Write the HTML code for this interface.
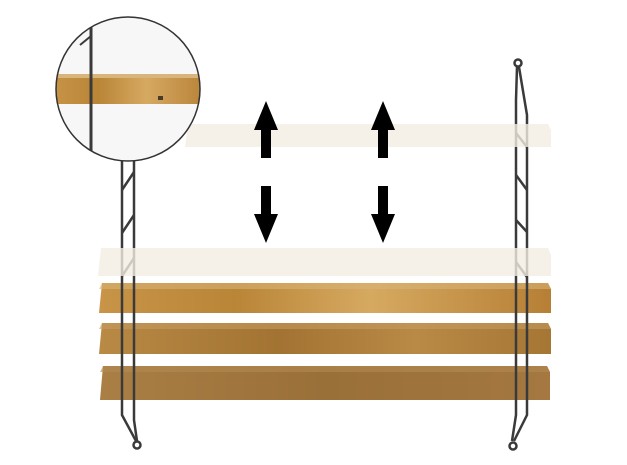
<!DOCTYPE html>
<html><head><style>body{margin:0;background:#fff}svg{display:block}</style></head>
<body>
<svg width="627" height="465" viewBox="0 0 627 465" xmlns="http://www.w3.org/2000/svg">
<defs>
<linearGradient id="w1" x1="0" y1="0" x2="1" y2="0">
<stop offset="0" stop-color="#c89448"/><stop offset=".3" stop-color="#b98537"/><stop offset=".6" stop-color="#d6a961"/><stop offset="1" stop-color="#b67f35"/></linearGradient>
<linearGradient id="w2" x1="0" y1="0" x2="1" y2="0">
<stop offset="0" stop-color="#b88a45"/><stop offset=".4" stop-color="#a27332"/><stop offset=".7" stop-color="#b98a46"/><stop offset="1" stop-color="#a57634"/></linearGradient>
<linearGradient id="w3" x1="0" y1="0" x2="1" y2="0">
<stop offset="0" stop-color="#aa7f45"/><stop offset=".5" stop-color="#9a7039"/><stop offset="1" stop-color="#a47840"/></linearGradient>
<clipPath id="cc"><circle cx="128" cy="89" r="72"/></clipPath>
</defs>
<!-- shelves -->
<polygon points="102,283 548,283 551,289 551,313 99,313" fill="url(#w1)"/>
<polygon points="102,283 548,283 551,289 99,289" fill="#d9b374" opacity=".6"/>
<polygon points="102,323 548,323 551,329 551,354 99,354" fill="url(#w2)"/>
<polygon points="102,323 548,323 551,329 99,329" fill="#c49b60" opacity=".6"/>
<polygon points="103,366 547,366 550,372 550,400 100,400" fill="url(#w3)"/>
<polygon points="103,366 547,366 550,372 100,372" fill="#b38a52" opacity=".6"/>
<g stroke="#3a3a3a" stroke-width="2.5" fill="none">
<!-- left rail -->
<path d="M122,160 L122,415 L136,441"/>
<path d="M134,160 L134,420 L137,441"/>
<path d="M134,172 L122,190 M134,215 L122,233 M134,258 L122,276"/>
<circle cx="137" cy="445" r="3.5"/>
<!-- right rail -->
<circle cx="518" cy="63" r="3.5"/>
<path d="M517,67 L516,100 L516,415 L512,441"/>
<path d="M519,67 L527,115 L527,415 L514,441"/>
<path d="M516,133 L527,147 M516,175 L527,190 M516,220 L527,232 M516,262 L527,277"/>
<circle cx="513" cy="446" r="3.5"/>
</g>
<!-- ghost shelves -->
<polygon points="188,124 548,124 551,130 551,147 185,147" fill="#f4eee2" opacity=".8"/>
<polygon points="101,248 548,248 551,255 551,276 98,276" fill="#f4eee2" opacity=".8"/>
<!-- arrows -->
<g fill="#000">
<polygon points="266,101 278,130 271,130 271,158 261,158 261,130 254,130"/>
<polygon points="383,101 395,130 388,130 388,158 378,158 378,130 371,130"/>
<polygon points="266,243 278,214 271,214 271,186 261,186 261,214 254,214"/>
<polygon points="383,243 395,214 388,214 388,186 378,186 378,214 371,214"/>
</g>
<!-- magnifier -->
<circle cx="128" cy="89" r="72" fill="#f7f7f7"/>
<g clip-path="url(#cc)">
<rect x="50" y="74" width="160" height="30" fill="url(#w1)"/>
<rect x="50" y="74" width="160" height="4" fill="#d8b57a"/>
<line x1="91" y1="0" x2="91" y2="170" stroke="#3a3a3a" stroke-width="3"/>
<line x1="80" y1="45" x2="91" y2="36" stroke="#3a3a3a" stroke-width="2"/>
<rect x="158" y="96" width="5" height="4" fill="#4a3a28"/>
</g>
<circle cx="128" cy="89" r="72" fill="none" stroke="#333" stroke-width="1.5"/>
</svg>
</body></html>
